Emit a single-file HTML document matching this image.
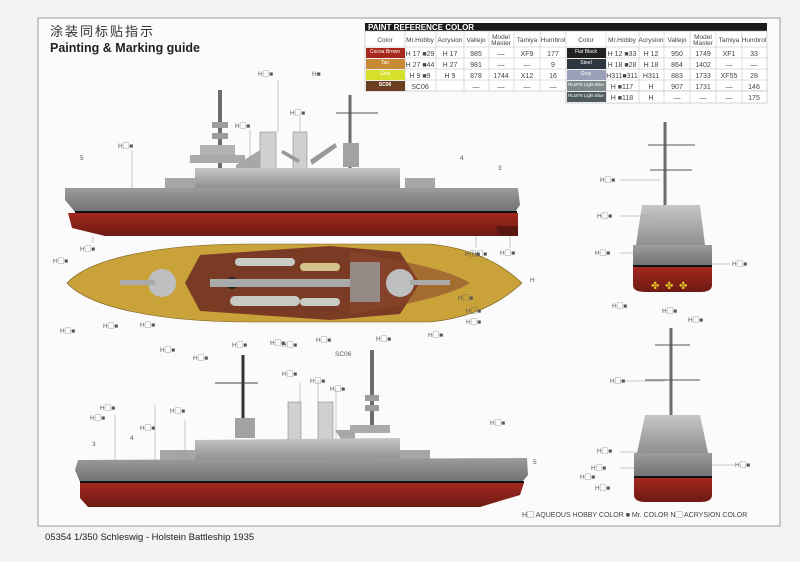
<!DOCTYPE html>
<html><head><meta charset="utf-8"><style>
html,body{margin:0;padding:0;background:#f3f3f3;}
body{width:800px;height:562px;overflow:hidden;position:relative;font-family:"Liberation Sans","Noto Sans CJK SC",sans-serif;}
svg{position:absolute;left:0;top:0}
</style></head><body>
<svg width="800" height="562" viewBox="0 0 800 562" xmlns="http://www.w3.org/2000/svg" font-family="Liberation Sans, Noto Sans CJK SC, sans-serif">
<defs>
<linearGradient id="red" x1="0" y1="0" x2="0" y2="1"><stop offset="0" stop-color="#a3281f"/><stop offset="1" stop-color="#6e1a14"/></linearGradient>
<linearGradient id="gray" x1="0" y1="0" x2="0" y2="1"><stop offset="0" stop-color="#9a9c9e"/><stop offset="1" stop-color="#6f7173"/></linearGradient>
<linearGradient id="sup" x1="0" y1="0" x2="0" y2="1"><stop offset="0" stop-color="#c4c6c8"/><stop offset="1" stop-color="#8e9092"/></linearGradient>
</defs>
<rect x="38" y="18" width="742" height="508" fill="#fbfbfb" stroke="#9a9a9a" stroke-width="1"/>
<text x="50" y="36" font-size="13" fill="#333" letter-spacing="2">涂装同标贴指示</text>
<text x="50" y="52" font-size="12.5" font-weight="bold" fill="#222">Painting &amp; Marking guide</text>

<!-- table -->
<g font-size="6.5" fill="#444" text-anchor="middle">
<rect x="365" y="23" width="402" height="8" fill="#1a1a1a"/>
<text x="368" y="30" font-size="8" font-weight="bold" fill="#fff" text-anchor="start">PAINT  REFERENCE COLOR</text>
<rect x="365" y="31" width="402" height="60" fill="#fff" stroke="#aaa" stroke-width="0.5"/>
<rect x="566" y="91" width="201" height="12" fill="#fff" stroke="#aaa" stroke-width="0.5"/>
<g stroke="#bbb" stroke-width="0.5">
<line x1="365" y1="47" x2="767" y2="47"/><line x1="365" y1="58" x2="767" y2="58"/><line x1="365" y1="69" x2="767" y2="69"/><line x1="365" y1="80" x2="767" y2="80"/>
<line x1="405" y1="31" x2="405" y2="91"/><line x1="436" y1="31" x2="436" y2="91"/><line x1="464" y1="31" x2="464" y2="91"/><line x1="489" y1="31" x2="489" y2="91"/><line x1="514" y1="31" x2="514" y2="91"/><line x1="540" y1="31" x2="540" y2="91"/><line x1="566" y1="31" x2="566" y2="103"/>
<line x1="606" y1="31" x2="606" y2="103"/><line x1="639" y1="31" x2="639" y2="103"/><line x1="664" y1="31" x2="664" y2="103"/><line x1="690" y1="31" x2="690" y2="103"/><line x1="716" y1="31" x2="716" y2="103"/><line x1="742" y1="31" x2="742" y2="103"/>
</g>
<text x="385" y="42">Color</text><text x="420" y="42">Mr.Hobby</text><text x="450" y="42">Acrysion</text><text x="476" y="42">Vallejo</text><text x="501" y="39">Model</text><text x="501" y="45">Master</text><text x="527" y="42">Tamiya</text><text x="553" y="42">Humbrol</text>
<text x="586" y="42">Color</text><text x="622" y="42">Mr.Hobby</text><text x="651" y="42">Acrysion</text><text x="677" y="42">Vallejo</text><text x="703" y="39">Model</text><text x="703" y="45">Master</text><text x="729" y="42">Tamiya</text><text x="754" y="42">Humbrol</text>
<rect x="366" y="48" width="39" height="10" fill="#a8281e"/><text x="385" y="53" fill="#fff" font-size="5">Cocoa Brown</text>
<rect x="366" y="59" width="39" height="10" fill="#c88a35"/><text x="385" y="64" fill="#fff" font-size="5">Tan</text>
<rect x="366" y="70" width="39" height="10" fill="#d6e028"/><text x="385" y="75" fill="#fff" font-size="5">Gold</text>
<rect x="366" y="81" width="39" height="10" fill="#6b3e20"/><text x="385" y="86" fill="#fff" font-size="5" font-weight="bold">SC06</text>
<rect x="567" y="48" width="39" height="10" fill="#222"/><text x="586" y="53" fill="#fff" font-size="5">Flat Black</text>
<rect x="567" y="59" width="39" height="10" fill="#2e3640"/><text x="586" y="64" fill="#fff" font-size="5">Steel</text>
<rect x="567" y="70" width="39" height="10" fill="#9aa0b8"/><text x="586" y="75" fill="#fff" font-size="5">Gray</text>
<rect x="567" y="81" width="39" height="10" fill="#7e8a8a"/><text x="586" y="86" fill="#fff" font-size="4.5">RLM76 Light Blue</text>
<rect x="567" y="92" width="39" height="10" fill="#4e5a60"/><text x="586" y="97" fill="#fff" font-size="4.5">RLM78 Light Blue</text>
<g font-size="7">
<text x="420" y="56">H 17 ■29</text><text x="420" y="67">H 27 ■44</text><text x="420" y="78">H 9 ■9</text><text x="420" y="89">SC06</text>
<text x="450" y="56">H 17</text><text x="450" y="67">H 27</text><text x="450" y="78">H 9</text>
<text x="476" y="56">985</text><text x="476" y="67">981</text><text x="476" y="78">878</text><text x="476" y="89">—</text>
<text x="501" y="56">—</text><text x="501" y="67">—</text><text x="501" y="78">1744</text><text x="501" y="89">—</text>
<text x="527" y="56">XF9</text><text x="527" y="67">—</text><text x="527" y="78">X12</text><text x="527" y="89">—</text>
<text x="553" y="56">177</text><text x="553" y="67">9</text><text x="553" y="78">16</text><text x="553" y="89">—</text>
<text x="622" y="56">H 12 ■33</text><text x="622" y="67">H 18 ■28</text><text x="622" y="78">H311■311</text><text x="622" y="89">H ■117</text><text x="622" y="100">H ■118</text>
<text x="651" y="56">H 12</text><text x="651" y="67">H 18</text><text x="651" y="78">H311</text><text x="651" y="89">H</text><text x="651" y="100">H</text>
<text x="677" y="56">950</text><text x="677" y="67">864</text><text x="677" y="78">883</text><text x="677" y="89">907</text><text x="677" y="100">—</text>
<text x="703" y="56">1749</text><text x="703" y="67">1402</text><text x="703" y="78">1733</text><text x="703" y="89">1731</text><text x="703" y="100">—</text>
<text x="729" y="56">XF1</text><text x="729" y="67">—</text><text x="729" y="78">XF55</text><text x="729" y="89">—</text><text x="729" y="100">—</text>
<text x="754" y="56">33</text><text x="754" y="67">—</text><text x="754" y="78">28</text><text x="754" y="89">146</text><text x="754" y="100">175</text>
</g></g>

<!-- TOP SIDE VIEW -->
<g>
<line x1="220" y1="90" x2="220" y2="168" stroke="#6a6c6e" stroke-width="4"/>
<rect x="212" y="122" width="16" height="6" fill="#9a9c9e"/><rect x="212" y="133" width="16" height="6" fill="#9a9c9e"/>
<line x1="350" y1="95" x2="350" y2="168" stroke="#6a6c6e" stroke-width="3"/>
<line x1="336" y1="113" x2="378" y2="113" stroke="#555" stroke-width="1"/>
<rect x="260" y="132" width="16" height="40" fill="#cfd1d0" stroke="#777" stroke-width="0.5"/>
<rect x="293" y="132" width="14" height="40" fill="#cfd1d0" stroke="#777" stroke-width="0.5"/>
<polygon points="236,165 260,150 260,170 236,180" fill="#a5a7a9"/>
<polygon points="310,160 335,143 337,147 312,165" fill="#999"/>
<polygon points="283,150 300,160 298,163 281,153" fill="#999"/>
<rect x="190" y="155" width="55" height="8" fill="#aaa"/>
<rect x="200" y="145" width="35" height="10" fill="#b0b2b4"/>
<rect x="343" y="143" width="16" height="24" fill="#a0a2a4"/>
<polygon points="195,168 400,168 400,188 195,188" fill="url(#sup)"/>
<rect x="165" y="178" width="30" height="10" fill="#a4a6a8"/>
<rect x="405" y="178" width="30" height="10" fill="#a4a6a8"/>
<polygon points="65,188 518,188 520,205 515,212 75,212 65,200" fill="url(#gray)"/>
<rect x="75" y="211" width="442" height="2" fill="#111"/>
<polygon points="68,213 518,213 518,236 105,236 72,228" fill="url(#red)"/>
<polygon points="495,226 518,226 518,236 500,236" fill="#5a1712"/>
</g>

<!-- TOP VIEW -->
<g>
<path d="M67,283 C90,258 160,244 250,244 L430,244 C470,248 500,262 522,283 C500,304 470,318 430,322 L250,322 C160,322 90,308 67,283 Z" fill="#c9a23a" stroke="#7a5a20" stroke-width="0.6"/>
<path d="M200,255 L330,246 L400,252 L420,283 L400,314 L330,320 L200,311 L185,283 Z" fill="#7a3b25"/>
<path d="M350,252 C400,260 450,270 470,283 C450,296 400,306 350,314 Z" fill="#8a4a2c" opacity="0.6"/>
<circle cx="162" cy="283" r="14" fill="#bdbfc1"/><rect x="120" y="280" width="35" height="5" fill="#aaa"/>
<circle cx="400" cy="283" r="14" fill="#bdbfc1"/><rect x="410" y="280" width="40" height="5" fill="#aaa"/>
<circle cx="232" cy="283" r="6" fill="#222"/>
<rect x="210" y="279" width="140" height="8" fill="#a8aaac"/>
<rect x="235" y="258" width="60" height="8" rx="4" fill="#c8cac6"/>
<rect x="230" y="296" width="70" height="10" rx="5" fill="#c8cac6"/>
<rect x="300" y="263" width="40" height="8" rx="4" fill="#d2c48a"/>
<rect x="300" y="298" width="40" height="8" rx="4" fill="#c8cac6"/>
<rect x="350" y="262" width="30" height="40" fill="#9a9c9e" opacity="0.8"/>
</g>

<!-- BOTTOM SIDE VIEW -->
<g>
<line x1="243" y1="355" x2="243" y2="428" stroke="#333" stroke-width="3"/>
<line x1="215" y1="383" x2="258" y2="383" stroke="#444" stroke-width="1"/>
<line x1="372" y1="350" x2="372" y2="430" stroke="#6a6c6e" stroke-width="4"/>
<rect x="365" y="395" width="14" height="6" fill="#9a9c9e"/><rect x="365" y="405" width="14" height="6" fill="#9a9c9e"/>
<rect x="288" y="402" width="13" height="45" fill="#cfd1d0" stroke="#777" stroke-width="0.5"/>
<rect x="318" y="402" width="15" height="45" fill="#cfd1d0" stroke="#777" stroke-width="0.5"/>
<polygon points="335,430 355,430 355,445 345,445" fill="#a5a7a9"/>
<rect x="350" y="425" width="40" height="8" fill="#aaa"/>
<rect x="235" y="418" width="20" height="20" fill="#a0a2a4"/>
<polygon points="195,440 400,438 400,460 195,460" fill="url(#sup)"/>
<rect x="160" y="450" width="35" height="10" fill="#a4a6a8"/>
<rect x="400" y="450" width="30" height="10" fill="#a4a6a8"/>
<polygon points="78,460 527,458 528,475 522,482 80,482 75,470" fill="url(#gray)"/>
<rect x="80" y="481" width="444" height="2" fill="#111"/>
<polygon points="80,483 524,483 520,495 480,507 88,507 80,498" fill="url(#red)"/>
</g>

<!-- RIGHT STERN VIEW -->
<g>
<line x1="665" y1="122" x2="665" y2="205" stroke="#6a6c6e" stroke-width="3"/>
<line x1="648" y1="145" x2="695" y2="145" stroke="#555" stroke-width="1"/>
<line x1="650" y1="170" x2="692" y2="170" stroke="#555" stroke-width="1"/>
<polygon points="642,205 700,205 705,245 636,245" fill="url(#sup)"/>
<rect x="633" y="245" width="79" height="21" fill="url(#gray)"/>
<rect x="633" y="265" width="79" height="2" fill="#111"/>
<path d="M633,267 L712,267 L712,285 Q712,292 700,292 L645,292 Q633,292 633,285 Z" fill="url(#red)"/>
<text x="651" y="289" font-size="10" fill="#e3c22a">✤</text><text x="665" y="289" font-size="10" fill="#e3c22a">✤</text><text x="679" y="289" font-size="10" fill="#e3c22a">✤</text>
</g>

<!-- RIGHT BOW VIEW -->
<g>
<line x1="671" y1="328" x2="671" y2="420" stroke="#6a6c6e" stroke-width="3"/>
<line x1="655" y1="345" x2="690" y2="345" stroke="#555" stroke-width="1"/>
<line x1="645" y1="380" x2="700" y2="380" stroke="#555" stroke-width="1"/>
<polygon points="645,415 700,415 708,453 637,453" fill="url(#sup)"/>
<rect x="634" y="453" width="78" height="24" fill="url(#gray)"/>
<rect x="634" y="476" width="78" height="2" fill="#111"/>
<path d="M634,478 L712,478 L712,495 Q712,502 700,502 L646,502 Q634,502 634,495 Z" fill="url(#red)"/>
</g>

<!-- callout labels -->
<g font-size="6.5" fill="#555">
<g stroke="#999" stroke-width="0.5">
<line x1="278" y1="80" x2="278" y2="132"/><line x1="300" y1="117" x2="300" y2="132"/><line x1="250" y1="130" x2="250" y2="165"/><line x1="132" y1="150" x2="132" y2="188"/>
<line x1="93" y1="236" x2="93" y2="243"/><line x1="476" y1="236" x2="476" y2="248"/><line x1="510" y1="236" x2="510" y2="248"/>
<line x1="318" y1="380" x2="318" y2="402"/><line x1="300" y1="383" x2="300" y2="402"/><line x1="336" y1="390" x2="336" y2="438"/>
<line x1="115" y1="415" x2="115" y2="460"/><line x1="155" y1="405" x2="155" y2="460"/><line x1="185" y1="420" x2="185" y2="460"/><line x1="182" y1="450" x2="182" y2="460"/>
<line x1="620" y1="180" x2="660" y2="180"/><line x1="620" y1="216" x2="650" y2="216"/><line x1="620" y1="253" x2="633" y2="253"/><line x1="712" y1="264" x2="730" y2="264"/>
<line x1="620" y1="381" x2="665" y2="381"/><line x1="620" y1="452" x2="645" y2="452"/><line x1="620" y1="468" x2="634" y2="468"/><line x1="712" y1="465" x2="735" y2="465"/>
</g>
<g>
<text x="258" y="76">H▢■</text><text x="290" y="115">H▢■</text><text x="235" y="128">H▢■</text><text x="118" y="148">H▢■</text><text x="312" y="76">H■</text>
<text x="80" y="251">H▢■</text><text x="465" y="256">H▢■</text><text x="500" y="255">H▢■</text><text x="472" y="256">H▢■</text>
<text x="53" y="263">H▢■</text><text x="60" y="333">H▢■</text><text x="103" y="328">H▢■</text><text x="140" y="327">H▢■</text>
<text x="160" y="352">H▢■</text><text x="193" y="360">H▢■</text><text x="232" y="347">H▢■</text><text x="282" y="347">H▢■</text>
<text x="270" y="345">H▢■</text><text x="316" y="342">H▢■</text><text x="376" y="341">H▢■</text><text x="428" y="337">H▢■</text>
<text x="335" y="356">SC06</text><text x="466" y="324">H▢■</text><text x="466" y="313">H▢■</text><text x="458" y="300">H▢■</text><text x="530" y="282">H</text>
<text x="282" y="376">H▢■</text><text x="310" y="383">H▢■</text><text x="330" y="391">H▢■</text>
<text x="100" y="410">H▢■</text><text x="90" y="420">H▢■</text><text x="140" y="430">H▢■</text><text x="170" y="413">H▢■</text><text x="490" y="425">H▢■</text>
<text x="600" y="182">H▢■</text><text x="597" y="218">H▢■</text><text x="595" y="255">H▢■</text><text x="732" y="266">H▢■</text>
<text x="612" y="308">H▢■</text><text x="662" y="313">H▢■</text><text x="688" y="322">H▢■</text>
<text x="610" y="383">H▢■</text><text x="597" y="453">H▢■</text><text x="591" y="470">H▢■</text><text x="580" y="479">H▢■</text><text x="595" y="490">H▢■</text><text x="735" y="467">H▢■</text>
</g>
<text x="80" y="160">5</text><text x="460" y="160">4</text><text x="498" y="170">3</text><text x="92" y="446">3</text><text x="130" y="440">4</text><text x="533" y="464">5</text>
</g>

<text x="522" y="517" font-size="7" fill="#444">H▢ AQUEOUS HOBBY COLOR   ■ Mr. COLOR   N▢ ACRYSION COLOR</text>
<text x="45" y="540" font-size="9.5" fill="#222">05354  1/350  Schleswig - Holstein Battleship 1935</text>
</svg>
</body></html>
